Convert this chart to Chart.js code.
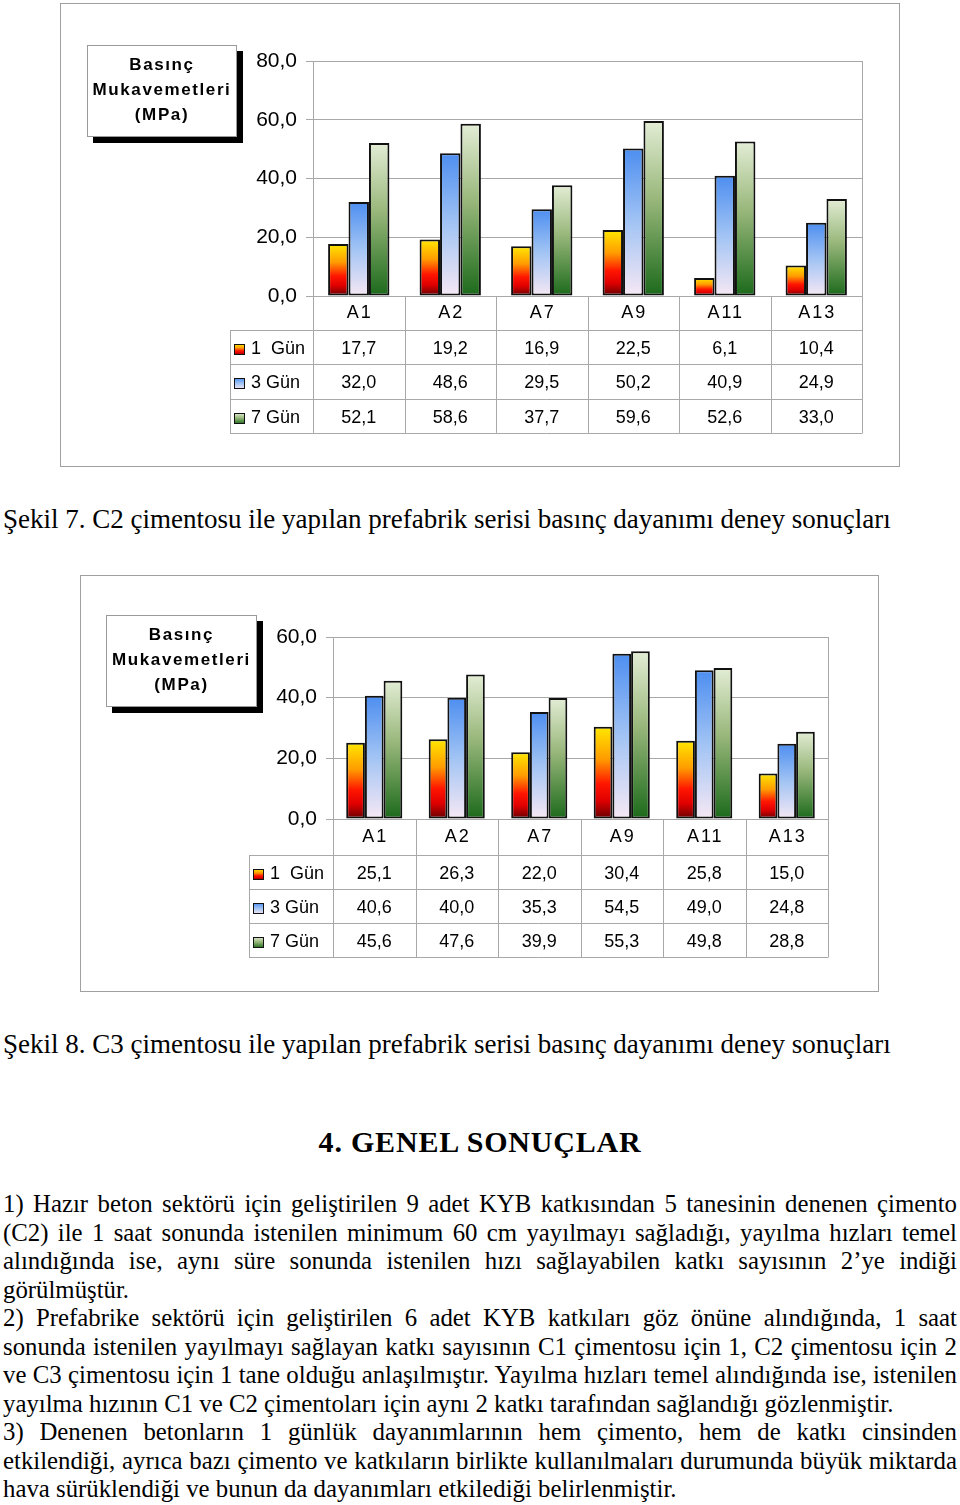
<!DOCTYPE html>
<html lang="tr">
<head>
<meta charset="UTF-8">
<title>Basınç dayanımı deney sonuçları</title>
<script src="https://cdn.jsdelivr.net/npm/chart.js"></script>
<style>
  body { margin: 0; background: #fff; color: #000; font-family: "Liberation Serif", "Times New Roman", serif; }
  .sayfa { position: relative; width: 960px; height: 1505px; overflow: hidden; }
  .cerceve { position: absolute; border: 1px solid #a0a0a0; background: #fff; }
  .cerceve canvas { position: absolute; left: 0; top: 0; }
  .kutu {
    position: absolute; box-sizing: border-box; border: 1px solid #9a9a9a; background: #fff;
    box-shadow: 6px 6px 0 #000; padding-top: 6px; text-align: center;
    font-family: "Liberation Sans", Arial, sans-serif; font-weight: bold; font-size: 17px;
    letter-spacing: 1.6px; line-height: 25px;
  }
  .yazi { position: absolute; left: 3px; font-size: 27px; line-height: 32px; white-space: nowrap; }
  .baslik { position: absolute; left: 0; width: 960px; text-align: center; font-weight: bold;
    font-size: 30px; line-height: 34px; letter-spacing: 0.8px; }
  .paragraf { position: absolute; left: 3px; top: 1190px; width: 954px; font-size: 24.8px; line-height: 28.55px; }
  .paragraf div { white-space: nowrap; }
  .paragraf .tam { text-align: justify; text-align-last: justify; word-spacing: -3px; }
</style>
</head>
<body>
<div class="sayfa">
  <div class="cerceve" style="left:60px; top:3px; width:838px; height:462px;">
    <canvas id="grafikC2" width="838" height="462"></canvas>
  </div>
  <div class="kutu" style="left:87px; top:45px; width:150px; height:92px;">Basınç<br>Mukavemetleri<br>(MPa)</div>

  <div class="yazi" style="top:503px;">Şekil 7. C2 çimentosu ile yapılan prefabrik serisi basınç dayanımı deney sonuçları</div>

  <div class="cerceve" style="left:80px; top:575px; width:797px; height:415px;">
    <canvas id="grafikC3" width="797" height="415"></canvas>
  </div>
  <div class="kutu" style="left:106px; top:615px; width:151px; height:92px;">Basınç<br>Mukavemetleri<br>(MPa)</div>

  <div class="yazi" style="top:1028px;">Şekil 8. C3 çimentosu ile yapılan prefabrik serisi basınç dayanımı deney sonuçları</div>

  <div class="baslik" style="top:1125px;">4. GENEL SONUÇLAR</div>

  <div class="paragraf">
    <div class="tam">1) Hazır beton sektörü için geliştirilen 9 adet KYB katkısından 5 tanesinin denenen çimento</div>
    <div class="tam">(C2) ile 1 saat sonunda istenilen minimum 60 cm yayılmayı sağladığı, yayılma hızları temel</div>
    <div class="tam">alındığında ise, aynı süre sonunda istenilen hızı sağlayabilen katkı sayısının 2’ye indiği</div>
    <div>görülmüştür.</div>
    <div class="tam">2) Prefabrike sektörü için geliştirilen 6 adet KYB katkıları göz önüne alındığında, 1 saat</div>
    <div class="tam">sonunda istenilen yayılmayı sağlayan katkı sayısının C1 çimentosu için 1, C2 çimentosu için 2</div>
    <div class="tam">ve C3 çimentosu için 1 tane olduğu anlaşılmıştır. Yayılma hızları temel alındığında ise, istenilen</div>
    <div>yayılma hızının C1 ve C2 çimentoları için aynı 2 katkı tarafından sağlandığı gözlenmiştir.</div>
    <div class="tam">3) Denenen betonların 1 günlük dayanımlarının hem çimento, hem de katkı cinsinden</div>
    <div class="tam">etkilendiği, ayrıca bazı çimento ve katkıların birlikte kullanılmaları durumunda büyük miktarda</div>
    <div>hava sürüklendiği ve bunun da dayanımları etkilediği belirlenmiştir.</div>
  </div>
</div>

<script>
  // veriler
  const kategoriler = ['A1', 'A2', 'A7', 'A9', 'A11', 'A13'];
  const seriAdlari = ['1  Gün', '3 Gün', '7 Gün'];

  // Şekil 7 - C2 çimentosu
  const c2Gun1 = [17.7, 19.2, 16.9, 22.5, 6.1, 10.4];
  const c2Gun3 = [32.0, 48.6, 29.5, 50.2, 40.9, 24.9];
  const c2Gun7 = [52.1, 58.6, 37.7, 59.6, 52.6, 33.0];
  const c2Eksen = [0, 20, 40, 60, 80];

  // Şekil 8 - C3 çimentosu
  const c3Gun1 = [25.1, 26.3, 22.0, 30.4, 25.8, 15.0];
  const c3Gun3 = [40.6, 40.0, 35.3, 54.5, 49.0, 24.8];
  const c3Gun7 = [45.6, 47.6, 39.9, 55.3, 49.8, 28.8];
  const c3Eksen = [0, 20, 40, 60];

  const renkler = [
    [[0, '#ffe800'], [0.35, '#ff9c00'], [0.62, '#ff1500'], [0.8, '#e00000'], [1, '#650000']],
    [[0, '#4d8ef0'], [0.5, '#a2c4f4'], [1, '#f6e8f4']],
    [[0, '#e3edd5'], [0.45, '#98b77a'], [1, '#1b691b']]
  ];

  const yaziTipi = '"Liberation Sans", Arial, sans-serif';
  const virgul = v => Number(v).toFixed(1).replace('.', ',');

  function gradyan(duraklar) {
    return (c) => {
      const ch = c.chart;
      if (!ch.chartArea || c.raw === undefined) return duraklar[0][1];
      const y = ch.scales.y;
      const g = ch.ctx.createLinearGradient(0, y.getPixelForValue(c.raw), 0, y.getPixelForValue(0));
      duraklar.forEach(d => g.addColorStop(d[0], d[1]));
      return g;
    };
  }

  // grafiğin altındaki veri tablosu
  const veriTablosu = {
    id: 'veriTablosu',
    afterDraw(chart, args, o) {
      const ctx = chart.ctx, ca = chart.chartArea, x = chart.scales.x;
      const n = chart.data.labels.length;
      const w = (ca.right - ca.left) / n;
      const ust = ca.bottom;
      const baslikAlt = ust + o.baslikH;
      const satirlar = chart.data.datasets;
      const alt = baslikAlt + o.satirH * satirlar.length;
      const px = v => Math.round(v) + 0.5;

      ctx.save();
      ctx.strokeStyle = '#a8a8a8';
      ctx.lineWidth = 1;
      ctx.beginPath();
      for (let i = 0; i <= n; i++) {
        const xi = px(ca.left + i * w);
        ctx.moveTo(xi, i === n ? ca.top : ust);
        ctx.lineTo(xi, alt);
      }
      for (let r = 0; r <= satirlar.length; r++) {
        const yr = px(baslikAlt + r * o.satirH);
        ctx.moveTo(o.sol, yr);
        ctx.lineTo(px(ca.right), yr);
      }
      ctx.moveTo(px(o.sol), baslikAlt);
      ctx.lineTo(px(o.sol), alt);
      ctx.stroke();

      ctx.fillStyle = '#000';
      ctx.textBaseline = 'middle';
      ctx.font = '18px ' + yaziTipi;
      ctx.textAlign = 'center';
      ctx.letterSpacing = '2px';
      chart.data.labels.forEach((lab, i) => {
        ctx.fillText(lab, x.getPixelForValue(i) + 1, ust + o.baslikH / 2);
      });
      ctx.letterSpacing = '0px';

      satirlar.forEach((ds, r) => {
        const yc = baslikAlt + r * o.satirH + o.satirH / 2 + 2;
        // lejant kutusu
        const kx = o.sol + 4, ky = Math.round(yc - 5);
        const g = ctx.createLinearGradient(0, ky, 0, ky + 11);
        renkler[r].forEach(d => g.addColorStop(d[0], d[1]));
        ctx.fillStyle = g;
        ctx.fillRect(kx, ky, 11, 11);
        ctx.strokeStyle = '#111';
        ctx.strokeRect(kx + 0.5, ky + 0.5, 10, 10);
        ctx.fillStyle = '#000';
        ctx.textAlign = 'left';
        ctx.fillText(ds.label, o.sol + 21, yc);
        ctx.textAlign = 'center';
        ds.data.forEach((v, i) => ctx.fillText(virgul(v), x.getPixelForValue(i), yc));
      });
      ctx.restore();
    }
  };

  function grafik(id, seriler, eksen, dolgu, tablo) {
    new Chart(document.getElementById(id), {
      type: 'bar',
      data: {
        labels: kategoriler,
        datasets: seriler.map((veri, i) => ({
          label: seriAdlari[i],
          data: veri,
          backgroundColor: gradyan(renkler[i]),
          borderColor: '#111',
          borderWidth: 2,
          borderSkipped: false,
          barPercentage: 1,
          categoryPercentage: tablo.kategoriOrani
        }))
      },
      options: {
        responsive: false,
        animation: false,
        layout: { padding: dolgu },
        plugins: {
          legend: { display: false },
          tooltip: { enabled: false },
          veriTablosu: tablo
        },
        scales: {
          x: { display: false },
          y: {
            min: eksen[0],
            max: eksen[eksen.length - 1],
            afterBuildTicks: s => { s.ticks = eksen.map(v => ({ value: v })); },
            afterFit: s => { s.width = 252; s.paddingTop = 0; s.paddingBottom = 0; },
            grid: { color: '#a8a8a8', tickLength: 7 },
            border: { color: '#a8a8a8' },
            ticks: {
              padding: 9,
              color: '#000',
              font: { family: yaziTipi, size: 21 },
              callback: v => virgul(v)
            }
          }
        }
      },
      plugins: [veriTablosu]
    });
  }

  grafik('grafikC2', [c2Gun1, c2Gun3, c2Gun7], c2Eksen,
    { left: 0, top: 57, right: 37, bottom: 170 },
    { sol: 169, baslikH: 34, satirH: 34.3, kategoriOrani: 0.67 });

  grafik('grafikC3', [c3Gun1, c3Gun3, c3Gun7], c3Eksen,
    { left: 0, top: 61, right: 50, bottom: 172 },
    { sol: 168, baslikH: 36, satirH: 34, kategoriOrani: 0.68 });
</script>
</body>
</html>
